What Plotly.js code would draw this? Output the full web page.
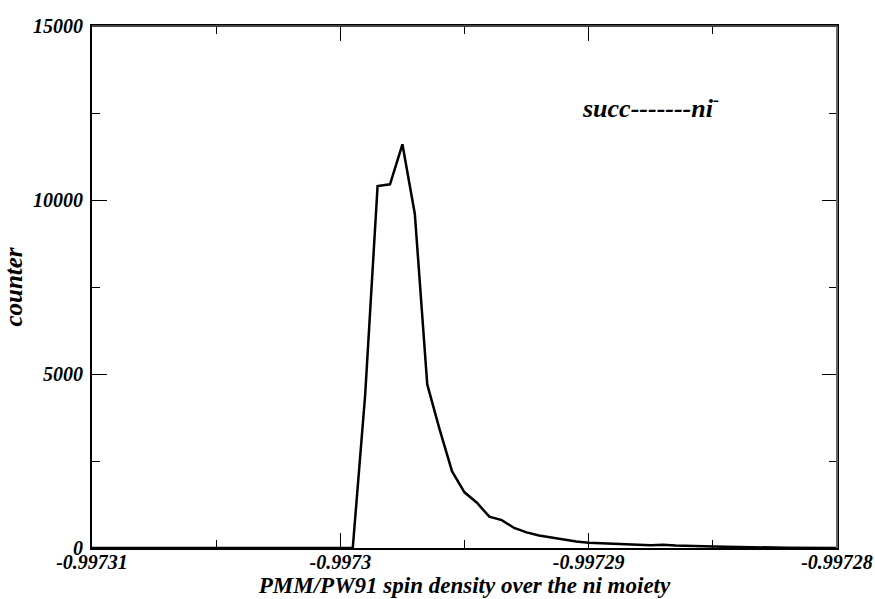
<!DOCTYPE html>
<html>
<head>
<meta charset="utf-8">
<script src="https://cdn.plot.ly/plotly-3.0.1.min.js"></script>
<style>html,body{margin:0;padding:0;background:#fff;}#chart{width:875px;height:599px;}</style>
</head>
<body>
<div id="chart"></div>
<script>
// spin density bins
const spinDensity = [
  -0.99731, -0.9973, -0.9972995, -0.997299, -0.9972985, -0.997298, -0.9972975,
  -0.997297, -0.9972965, -0.997296, -0.9972955, -0.997295, -0.9972945, -0.997294,
  -0.9972935, -0.997293, -0.9972925, -0.997292, -0.9972915, -0.997291, -0.9972905,
  -0.99729, -0.9972895, -0.997289, -0.9972885, -0.997288, -0.9972875, -0.997287,
  -0.9972865, -0.997286, -0.9972855, -0.997285, -0.9972845, -0.997284, -0.9972835,
  -0.997283, -0.9972825, -0.997282, -0.9972815, -0.99728
];
const counter = [
  0, 0, 0, 4400, 10400, 10450, 11600,
  9600, 4700, 3400, 2200, 1600, 1300, 900,
  800, 575, 450, 360, 300, 260, 190,
  150, 130, 110, 100, 90, 80, 95,
  70, 55, 50, 40, 35, 25, 20,
  15, 12, 8, 5, 3
];
const xTickVals = [-0.99731, -0.9973, -0.99729, -0.99728];
const xTickText = ["-0.99731", "-0.9973", "-0.99729", "-0.99728"];
const xMinorVals = [-0.997305, -0.997295, -0.997285];
const yTickVals = [0, 5000, 10000, 15000];
const yTickText = ["0", "5000", "10000", "15000"];
const yMinorVals = [2500, 7500, 12500];

const serif = "Liberation Serif, Times New Roman, serif";
const tickFont = {family: serif, size: 20, color: "#000", weight: 700, style: "italic"};
const xTitleFont = {family: serif, size: 23, color: "#000", weight: 700, style: "italic"};
const yTitleFont = {family: serif, size: 25, color: "#000", weight: 700, style: "italic"};
const noteFont = {family: serif, size: 26, color: "#000", weight: 700, style: "italic"};

const trace = {
  x: spinDensity, y: counter, type: "scatter", mode: "lines",
  line: {color: "#000", width: 2.5}, hoverinfo: "skip"
};

const layout = {
  width: 875, height: 599,
  margin: {l: 92, r: 38, t: 26, b: 51},
  paper_bgcolor: "#fff", plot_bgcolor: "#fff",
  showlegend: false,
  xaxis: {
    range: [-0.99731, -0.99728], tickmode: "array", tickvals: xTickVals, ticktext: xTickText,
    ticks: "inside", ticklen: 15, tickwidth: 1, tickcolor: "#000",
    minor: {tickmode: "array", tickvals: xMinorVals, ticks: "inside", ticklen: 8, tickwidth: 1, tickcolor: "#000"},
    showline: true, linecolor: "#000", linewidth: 2, mirror: "ticks",
    showgrid: false, zeroline: false, tickfont: tickFont, ticklabelstandoff: -5,
    title: {text: "PMM/PW91 spin density over the ni moiety", font: xTitleFont, standoff: 2}
  },
  yaxis: {
    range: [0, 15000], tickmode: "array", tickvals: yTickVals, ticktext: yTickText,
    ticks: "inside", ticklen: 15, tickwidth: 1, tickcolor: "#000",
    minor: {tickmode: "array", tickvals: yMinorVals, ticks: "inside", ticklen: 8, tickwidth: 1, tickcolor: "#000"},
    showline: true, linecolor: "#000", linewidth: 2, mirror: "ticks",
    showgrid: false, zeroline: false, tickfont: tickFont, ticklabelstandoff: 3,
    title: {text: "counter", font: yTitleFont, standoff: 8}
  },
  shapes: [
    {type: "line", xref: "paper", yref: "paper", x0: 0, x1: 1, y0: 1, y1: 1, line: {color: "#444", width: 2}, layer: "above"},
    {type: "line", xref: "paper", yref: "paper", x0: 1, x1: 1, y0: 0, y1: 1, line: {color: "#666", width: 2}, layer: "above"}
  ],
  annotations: [{
    xref: "paper", yref: "paper", x: 0.749, y: 0.845, xanchor: "center", yanchor: "middle",
    text: "succ-------ni<sup>-</sup>", showarrow: false, font: noteFont
  }]
};

Plotly.newPlot("chart", [trace], layout, {displayModeBar: false, staticPlot: true});
</script>
</body>
</html>
